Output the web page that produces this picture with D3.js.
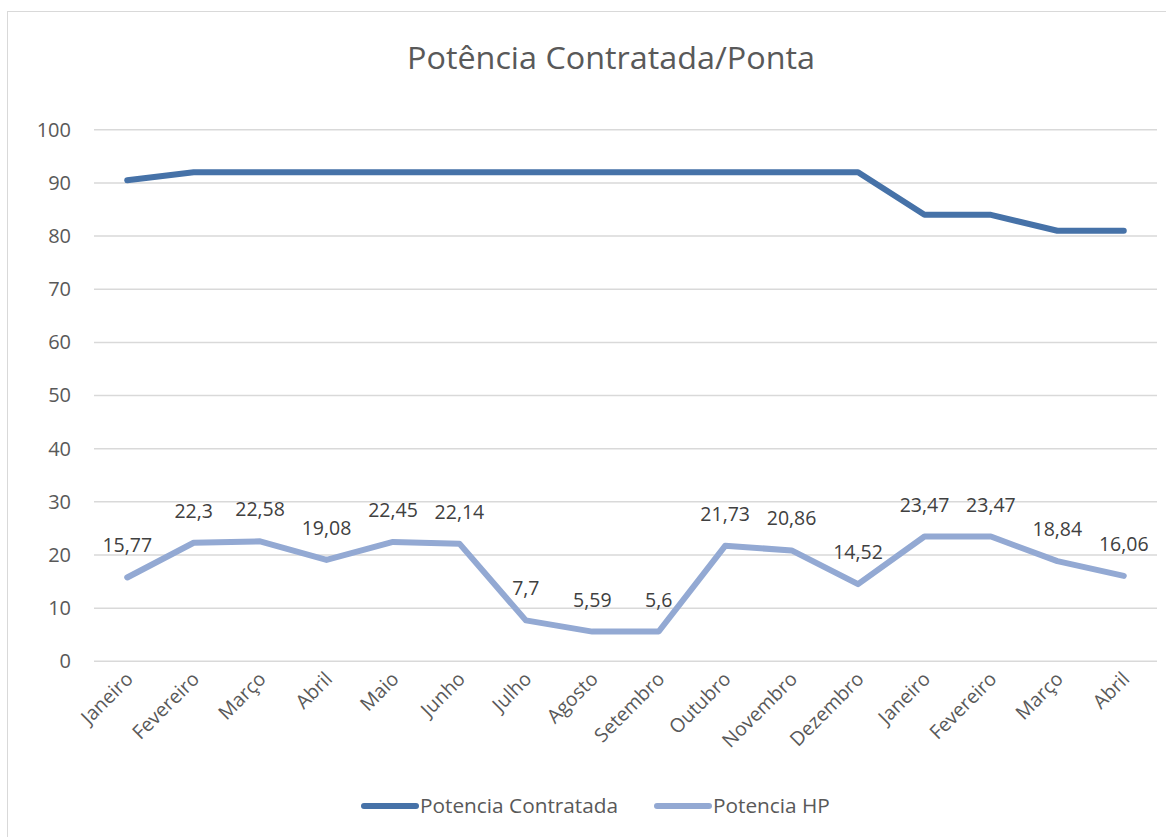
<!DOCTYPE html>
<html><head><meta charset="utf-8">
<script src="https://cdn.jsdelivr.net/npm/d3@7"></script>
<style>body{margin:0;background:#fff;} text{font-family:"Open Sans","Liberation Sans",sans-serif;}</style>
</head><body>
<svg id="c" width="1166" height="837"></svg>
<script>
const categories = ["Janeiro","Fevereiro","Março","Abril","Maio","Junho","Julho","Agosto","Setembro","Outubro","Novembro","Dezembro","Janeiro","Fevereiro","Março","Abril"];
const contratada = [90.5,92,92,92,92,92,92,92,92,92,92,92,84,84,81,81];
const hp = [15.77,22.3,22.58,19.08,22.45,22.14,7.7,5.59,5.6,21.73,20.86,14.52,23.47,23.47,18.84,16.06];
const yTicks = [0,10,20,30,40,50,60,70,80,90,100];
const seriesNames = ["Potencia Contratada","Potencia HP"];
const colors = ["#4672a8","#93a9d3"];

const svg = d3.select("#c");
svg.append("rect").attr("x",7.5).attr("y",11.5).attr("width",1170).attr("height",840)
  .attr("fill","none").attr("stroke","#d9d9d9").attr("stroke-width",1);

svg.append("text").attr("x",611).attr("y",69).attr("text-anchor","middle")
  .attr("font-size",31).attr("fill","#595959").attr("textLength",408).attr("lengthAdjust","spacingAndGlyphs")
  .text("Potência Contratada/Ponta");

const x = d3.scaleBand().domain(d3.range(categories.length)).range([94,1157]);
const y = d3.scaleLinear().domain([0,100]).range([661.3,129.8]);

svg.append("g").selectAll("line").data(yTicks).join("line")
  .attr("x1",94).attr("x2",1157).attr("y1",d=>y(d)).attr("y2",d=>y(d))
  .attr("stroke","#d9d9d9").attr("stroke-width",1.5);

const yAxis = svg.append("g").attr("transform","translate(94,0)")
  .call(d3.axisLeft(y).tickValues(yTicks).tickSize(0).tickPadding(23));
yAxis.select(".domain").remove();
yAxis.selectAll("text").attr("font-size",20).attr("fill","#595959").attr("font-family","Open Sans, sans-serif");

const xAxis = svg.append("g").attr("transform","translate(0,661.3)")
  .call(d3.axisBottom(x).tickFormat(i=>categories[i]).tickSize(0));
xAxis.select(".domain").remove();
xAxis.selectAll("text").attr("font-size",19.5).attr("fill","#595959")
  .attr("text-anchor","end").attr("dy",null).attr("y",0)
  .attr("font-family","Open Sans, sans-serif")
  .attr("transform","translate(7,19) rotate(-45)");

const line = d3.line().x((d,i)=>x(i)+x.bandwidth()/2).y(d=>y(d));
[contratada,hp].forEach((s,k)=>{
  svg.append("path").attr("d",line(s)).attr("fill","none")
    .attr("stroke",colors[k]).attr("stroke-width",6).attr("stroke-linejoin","round").attr("stroke-linecap","round");
});

svg.append("g").selectAll("text").data(hp).join("text")
  .attr("x",(d,i)=>x(i)+x.bandwidth()/2).attr("y",d=>y(d)-25)
  .attr("text-anchor","middle").attr("font-size",19.5).attr("fill","#404040")
  .text(d=>String(d).replace(".",","));

const leg = [{x:364,tx:420},{x:657,tx:713}];
seriesNames.forEach((n,k)=>{
  svg.append("line").attr("x1",leg[k].x).attr("x2",leg[k].x+52).attr("y1",806).attr("y2",806)
    .attr("stroke",colors[k]).attr("stroke-width",6).attr("stroke-linecap","round");
  svg.append("text").attr("x",leg[k].tx).attr("y",813).attr("font-size",20.8).attr("fill","#595959").text(n);
});
</script>
</body></html>
